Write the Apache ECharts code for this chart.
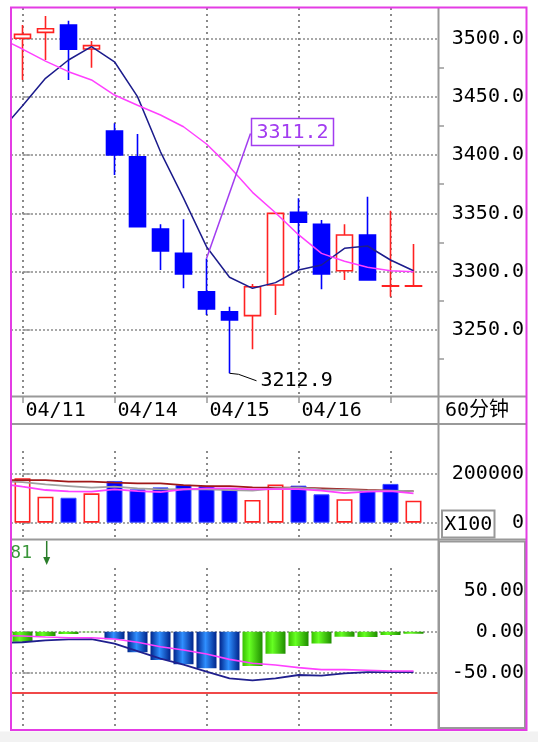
<!DOCTYPE html>
<html>
<head>
<meta charset="utf-8">
<script src="https://cdn.jsdelivr.net/npm/echarts@6/dist/echarts.min.js"></script>
<style>html,body{margin:0;padding:0;background:#fff}#c{width:538px;height:742px}</style>
</head>
<body>
<div id="c"></div>
<script>
// ---------------- data ----------------
const dateLabels = ['04/11', '04/14', '04/15', '04/16'];
const dateIndex = [0, 4, 8, 12];
const dateTickIndex = [0, 4, 8, 12, 16];

const openP  = [3500.0, 3505.1, 3511.4, 3490.8, 3420.6, 3398.5, 3336.6, 3315.7, 3282.8, 3265.7, 3262.3, 3288.6, 3350.9, 3340.6, 3300.8, 3331.4, 3287.6, 3287.6];
const closeP = [3503.4, 3508.2, 3490.6, 3493.7, 3400.0, 3338.5, 3317.7, 3298.0, 3268.0, 3258.6, 3287.1, 3350.0, 3342.3, 3298.0, 3331.4, 3292.9, 3287.8, 3287.8];
const lowP   = [3464.3, 3481.4, 3464.3, 3474.8, 3382.8, 3338.5, 3301.4, 3285.7, 3262.9, 3212.9, 3233.5, 3262.9, 3301.4, 3284.9, 3292.9, 3292.9, 3278.5, 3287.6];
const highP  = [3511.4, 3519.1, 3515.1, 3497.7, 3427.1, 3418.0, 3340.6, 3344.9, 3311.2, 3270.0, 3289.4, 3350.5, 3362.9, 3344.3, 3340.6, 3364.3, 3352.3, 3323.7];

// moving averages: first value is the line's value at the left edge of the window
const priceMaShort = [3430.9, 3442.2, 3465.7, 3481.4, 3492.8, 3479.9, 3450.0, 3402.7, 3363.0, 3321.4, 3295.2, 3285.7, 3290.6, 3301.4, 3305.7, 3320.0, 3322.0, 3310.0, 3300.8];
const priceMaLong  = [3495.7, 3490.8, 3480.5, 3471.4, 3464.3, 3451.4, 3442.6, 3434.3, 3424.2, 3409.4, 3390.0, 3368.0, 3350.5, 3331.7, 3315.7, 3308.9, 3303.7, 3300.8, 3300.0];

const volume = [180000, 105000, 101000, 119000, 169000, 135000, 143000, 153000, 149000, 139000, 92000, 155000, 150000, 115000, 95000, 132000, 157000, 89000];
const volumeUp = [1, 1, 0, 1, 0, 0, 0, 0, 0, 0, 1, 1, 0, 0, 1, 0, 0, 1];
const volMaA = [172700, 172700, 172700, 166000, 166000, 162000, 159200, 159200, 152500, 148400, 148400, 143000, 141700, 141700, 139000, 136300, 132300, 129600, 128200];
const volMaB = [166000, 164600, 155200, 148400, 141700, 145700, 139000, 135000, 136300, 135000, 132300, 129600, 139000, 141700, 135000, 132300, 129600, 129600, 128200];
const volMaC = [152500, 145700, 132300, 126900, 125500, 135000, 128200, 124200, 135000, 139000, 139000, 135000, 136300, 136300, 129600, 120100, 125500, 128200, 118800];

const macdHist = [-12.1, -5.3, -2.8, -0.8, -9.3, -25.1, -34.4, -39.6, -44.5, -46.9, -41.7, -26.7, -17.4, -14.2, -6.1, -6.5, -4.0, -2.4];
const macdRising = [1, 1, 1, 1, 0, 0, 0, 0, 0, 0, 1, 1, 1, 1, 1, 1, 1, 1];
const macdDif = [-13.3, -12.8, -10.5, -9.3, -8.9, -14.6, -23.5, -32.8, -40.0, -48.5, -56.6, -59.1, -56.6, -52.6, -53.4, -50.6, -49.0, -49.0, -49.0];
const macdDea = [-4.9, -5.3, -6.5, -7.3, -7.3, -8.9, -12.9, -18.2, -22.2, -27.1, -33.6, -38.4, -40.5, -43.7, -46.1, -46.1, -46.9, -47.7, -47.7];

const priceTicks = [3250, 3300, 3350, 3400, 3450, 3500];
const priceMinorTicks = [3225, 3275, 3325, 3375, 3425, 3475];
const volumeTicks = [0, 200000];
const macdTicks = [50, 0, -50];
const macdRefLine = -75;
const markHighIndex = 8;
const sideLabel = '60分钟';
const unitLabel = 'X100';
const macdTopText = '81';

// ---------------- layout / style ----------------
const MONO = '"DejaVu Sans Mono", monospace';
const X_MIN = -0.5, X_MAX = -0.5 + 427 / 23;
const P_MIN = 3193.44, P_MAX = 3526.83;
const V_MIN = -65990, V_MAX = 399600;
const M_MIN = -117.0, M_MAX = 110.2;
const VOL_VLINE_TOP = 294000, MACD_VLINE_TOP = 79;
const DOT_COLOR = '#8a8a8a';
const hDotted = {show: true, lineStyle: {type: 'dotted', width: 2, color: '#a8a8a8'}};
const axisGray = '#999';

const withEdge = arr => arr.map((v, k) => [k === 0 ? X_MIN : k - 1, v]);

const chart = echarts.init(document.getElementById('c'), null, {renderer: 'canvas', width: 538, height: 742});

const labelStyle = {fontFamily: MONO, fontSize: 20, color: '#000'};

function yAxisBase(grid, min, max) {
  return {
    gridIndex: grid, type: 'value', min: min, max: max, position: 'right', offset: 0,
    axisLine: {show: false}, splitLine: {show: false}, minorTick: {show: false}
  };
}

const blueGrad = new echarts.graphic.LinearGradient(0, 0, 1, 0, [
  {offset: 0, color: '#00248a'}, {offset: 0.45, color: '#2f8fff'}, {offset: 1, color: '#00248a'}]);
const greenGrad = new echarts.graphic.LinearGradient(0, 0, 1, 0, [
  {offset: 0, color: '#38c000'}, {offset: 0.35, color: '#66ff22'}, {offset: 1, color: '#1f8c00'}]);

const option = {
  animation: false,
  backgroundColor: '#ffffff',
  grid: [
    {left: 11, top: 7, width: 427, height: 389, outerBoundsMode: 'none'},
    {left: 11, top: 424, width: 427, height: 115, outerBoundsMode: 'none'},
    {left: 11, top: 541, width: 427, height: 187, outerBoundsMode: 'none'}
  ],
  xAxis: [
    {gridIndex: 0, type: 'value', min: X_MIN, max: X_MAX,
     axisLine: {show: false}, splitLine: {show: false},
     axisTick: {show: true, customValues: dateTickIndex, length: 7, lineStyle: {color: axisGray, width: 1.5}},
     axisLabel: Object.assign({show: true, customValues: dateIndex,
       formatter: v => dateLabels[dateIndex.indexOf(Math.round(v))] || '',
       align: 'left', padding: [0, 0, 0, 3], margin: 5}, labelStyle)},
    {gridIndex: 1, type: 'value', min: X_MIN, max: X_MAX, show: false},
    {gridIndex: 2, type: 'value', min: X_MIN, max: X_MAX, show: false}
  ],
  yAxis: [
    Object.assign(yAxisBase(0, P_MIN, P_MAX), {
      splitLine: hDotted,
      axisTick: {show: true, customValues: priceTicks, length: 8, lineStyle: {color: axisGray, width: 1.5}},
      axisLabel: Object.assign({show: true, customValues: priceTicks, formatter: v => v.toFixed(1), align: 'right', margin: 86}, labelStyle)
    }),
    Object.assign(yAxisBase(0, P_MIN, P_MAX), {
      axisTick: {show: true, customValues: priceMinorTicks, length: 6, lineStyle: {color: axisGray, width: 1.5}},
      axisLabel: {show: false}
    }),
    Object.assign(yAxisBase(1, V_MIN, V_MAX), {
      splitLine: hDotted,
      axisTick: {show: true, customValues: volumeTicks, length: 8, lineStyle: {color: axisGray, width: 1.5}},
      axisLabel: Object.assign({show: true, customValues: volumeTicks, formatter: v => String(v), align: 'right', margin: 86}, labelStyle)
    }),
    Object.assign(yAxisBase(2, M_MIN, M_MAX), {
      splitLine: hDotted,
      axisTick: {show: true, customValues: macdTicks, length: 8, lineStyle: {color: axisGray, width: 1.5}},
      axisLabel: Object.assign({show: true, customValues: macdTicks, formatter: v => v.toFixed(2), align: 'right', margin: 86}, labelStyle)
    })
  ],
  series: [
    {type: 'candlestick', xAxisIndex: 0, yAxisIndex: 0, z: 2, barWidth: 17,
     encode: {x: 0, y: [1, 2, 3, 4]},
     itemStyle: {color: '#ffffff', color0: '#0000ff', borderColor: '#ff2222', borderColor0: '#0000ff', borderWidth: 1.6},
     data: openP.map((o, i) => [i, o, closeP[i], lowP[i], highP[i]])},
    {type: 'line', xAxisIndex: 0, yAxisIndex: 0, z: 3, showSymbol: false, silent: true,
     lineStyle: {color: '#1c1c8c', width: 1.5}, data: withEdge(priceMaShort)},
    {type: 'line', xAxisIndex: 0, yAxisIndex: 0, z: 3, showSymbol: false, silent: true,
     lineStyle: {color: '#ff40ff', width: 1.5}, data: withEdge(priceMaLong)},

    {type: 'bar', xAxisIndex: 1, yAxisIndex: 2, z: 2, barWidth: 16,
     data: volume.map((v, i) => ({value: [i, v], itemStyle: volumeUp[i]
       ? {color: '#ffffff', borderColor: '#ff2222', borderWidth: 1.6}
       : {color: '#0000ff', borderColor: '#3a4dff', borderWidth: 1}}))},
    {type: 'line', xAxisIndex: 1, yAxisIndex: 2, z: 3, showSymbol: false, silent: true,
     lineStyle: {color: '#a01818', width: 1.8}, data: withEdge(volMaA)},
    {type: 'line', xAxisIndex: 1, yAxisIndex: 2, z: 3, showSymbol: false, silent: true,
     lineStyle: {color: '#a0a0a0', width: 1.8}, data: withEdge(volMaB)},
    {type: 'line', xAxisIndex: 1, yAxisIndex: 2, z: 3, showSymbol: false, silent: true,
     lineStyle: {color: '#ff40ff', width: 1.8}, data: withEdge(volMaC)},

    {type: 'bar', xAxisIndex: 2, yAxisIndex: 3, z: 2, barWidth: 20,
     data: macdHist.map((v, i) => ({value: [i, v], itemStyle: {color: macdRising[i] ? greenGrad : blueGrad}}))},
    {type: 'line', xAxisIndex: 2, yAxisIndex: 3, z: 3, showSymbol: false, silent: true,
     lineStyle: {color: '#20208e', width: 1.8}, data: withEdge(macdDif)},
    {type: 'line', xAxisIndex: 2, yAxisIndex: 3, z: 3, showSymbol: false, silent: true,
     lineStyle: {color: '#ff40ff', width: 1.6}, data: withEdge(macdDea)}
  ]
};

chart.setOption(option);

// ---------------- vertical dotted grid, annotations, frame ----------------
const toPx = (grid, yIdx, x, y) => chart.convertToPixel({xAxisIndex: grid, yAxisIndex: yIdx}, [x, y]);
const g = [];
function vDots(x, y1, y2) {
  const xx = Math.round(x) - 1;
  for (let yy = Math.round(y1) + 1; yy < y2 - 1; yy += 6) {
    g.push({type: 'rect', z: 1, silent: true, shape: {x: xx, y: yy, width: 2, height: 2}, style: {fill: DOT_COLOR}});
  }
}
dateTickIndex.forEach(v => {
  const p0 = toPx(0, 0, v, P_MAX), p1 = toPx(0, 0, v, P_MIN);
  vDots(p0[0], p0[1], p1[1]);
  const a = toPx(1, 2, v, VOL_VLINE_TOP), b = toPx(1, 2, v, V_MIN);
  vDots(a[0], a[1], b[1]);
  const c = toPx(2, 3, v, MACD_VLINE_TOP), d = toPx(2, 3, v, M_MIN);
  vDots(c[0], c[1], d[1]);
});

const r1 = toPx(2, 3, X_MIN, macdRefLine), r2 = toPx(2, 3, X_MAX, macdRefLine);
g.push({type: 'line', z: 5, silent: true, shape: {x1: r1[0], y1: Math.round(r1[1]), x2: r2[0], y2: Math.round(r2[1])}, style: {stroke: '#f04848', lineWidth: 2}});

const minIdx = lowP.indexOf(Math.min.apply(null, lowP));
const pHigh = toPx(0, 0, markHighIndex, highP[markHighIndex]);
const pLow = toPx(0, 0, minIdx, lowP[minIdx]);
const purple = '#a23cf0';
const monoFont = '20px ' + MONO;

g.push(
  {type: 'rect', z: 200, shape: {x: 0, y: 731.5, width: 538, height: 11}, style: {fill: '#f2f2f2'}},
  {type: 'line', z: 150, shape: {x1: 438.5, y1: 7, x2: 438.5, y2: 730}, style: {stroke: axisGray, lineWidth: 2}},
  {type: 'line', z: 150, shape: {x1: 11, y1: 396.5, x2: 527, y2: 396.5}, style: {stroke: axisGray, lineWidth: 2}},
  {type: 'line', z: 150, shape: {x1: 11, y1: 424, x2: 527, y2: 424}, style: {stroke: axisGray, lineWidth: 2}},
  {type: 'line', z: 150, shape: {x1: 11, y1: 539.5, x2: 527, y2: 539.5}, style: {stroke: axisGray, lineWidth: 2}},
  {type: 'rect', z: 150, shape: {x: 439, y: 541.5, width: 86, height: 186.5}, style: {fill: null, stroke: axisGray, lineWidth: 2}},
  {type: 'rect', z: 160, shape: {x: 442, y: 510.5, width: 52.5, height: 27}, style: {fill: '#ffffff', stroke: axisGray, lineWidth: 2}},
  {type: 'text', z: 161, x: 468.3, y: 524.5, style: {text: unitLabel, font: monoFont, fill: '#000', align: 'center', verticalAlign: 'middle'}},
  {type: 'text', z: 161, x: 445, y: 411, style: {text: sideLabel, font: '20px "DejaVu Sans Mono", "Noto Sans CJK SC", sans-serif', fill: '#000', align: 'left', verticalAlign: 'middle'}},
  {type: 'text', z: 161, x: 32, y: 553.5, style: {text: macdTopText, font: '18px ' + MONO, fill: '#3a963a', align: 'right', verticalAlign: 'middle'}},
  {type: 'line', z: 161, shape: {x1: 46.7, y1: 541, x2: 46.7, y2: 559}, style: {stroke: '#2a7d2a', lineWidth: 1.5}},
  {type: 'polygon', z: 161, shape: {points: [[43.2, 557], [50.2, 557], [46.7, 565]]}, style: {fill: '#2a7d2a'}},
  {type: 'line', z: 120, shape: {x1: pHigh[0], y1: pHigh[1], x2: pHigh[0] + 44, y2: pHigh[1] - 125}, style: {stroke: purple, lineWidth: 1.5}},
  {type: 'rect', z: 121, shape: {x: pHigh[0] + 45, y: pHigh[1] - 140, width: 82, height: 27}, style: {fill: '#ffffff', stroke: purple, lineWidth: 1.5}},
  {type: 'text', z: 122, x: pHigh[0] + 86, y: pHigh[1] - 126, style: {text: highP[markHighIndex].toFixed(1), font: monoFont, fill: purple, align: 'center', verticalAlign: 'middle'}},
  {type: 'polyline', z: 120, shape: {points: [[pLow[0], pLow[1]], [pLow[0] + 9, pLow[1] + 1], [pLow[0] + 27, pLow[1] + 7.5]]}, style: {stroke: '#000', lineWidth: 1, fill: null}},
  {type: 'text', z: 122, x: pLow[0] + 31, y: pLow[1] + 7.5, style: {text: lowP[minIdx].toFixed(1), font: monoFont, fill: '#000', align: 'left', verticalAlign: 'middle'}},
  {type: 'rect', z: 300, shape: {x: 11, y: 7.5, width: 515.5, height: 722.5}, style: {fill: null, stroke: '#e43ce4', lineWidth: 2}}
);
chart.setOption({graphic: g});
</script>
</body>
</html>
